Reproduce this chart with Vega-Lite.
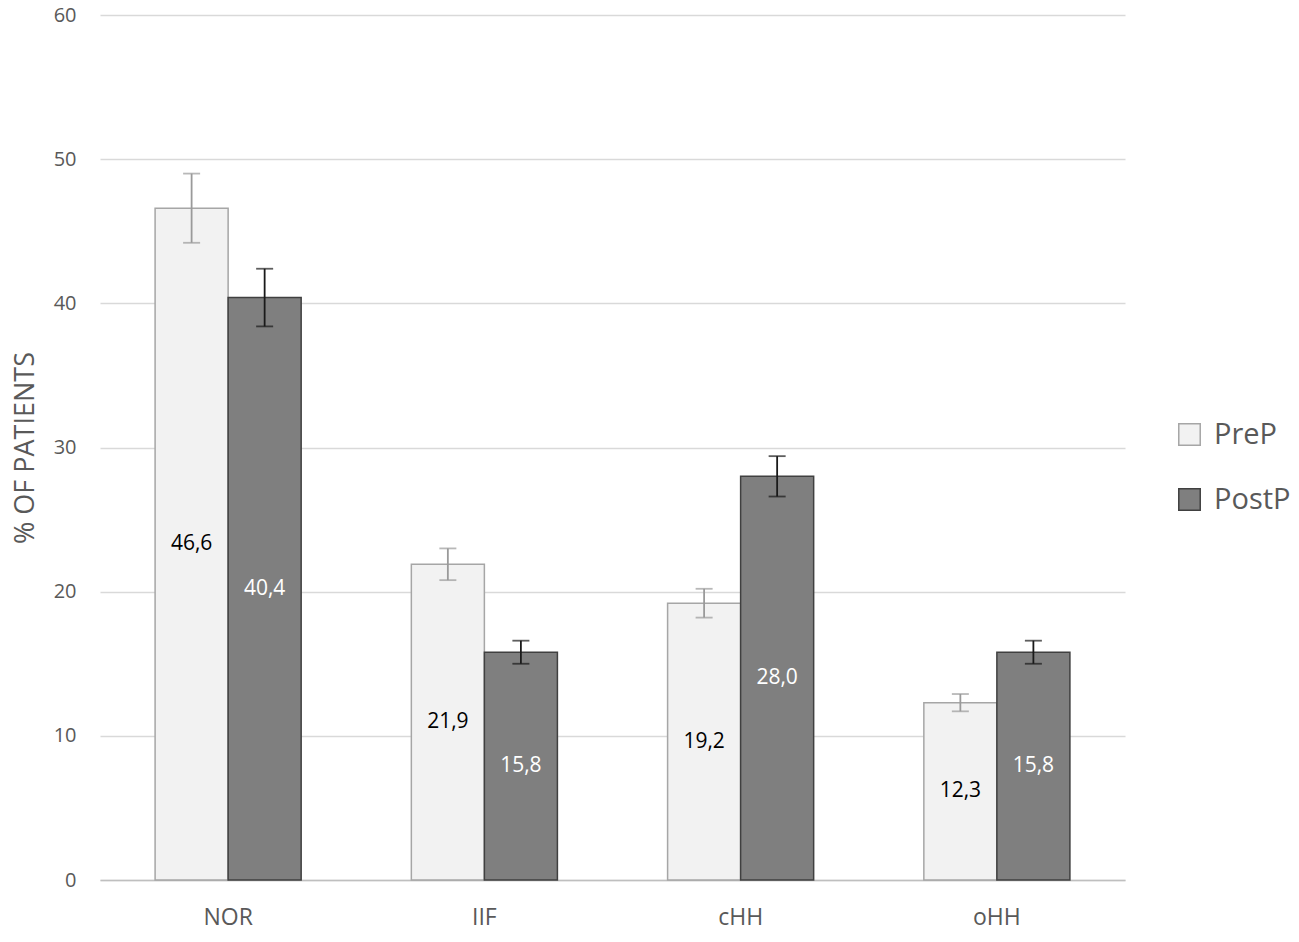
{
  "$schema": "https://vega.github.io/schema/vega-lite/v6.json",
  "autosize": "none",
  "width": 1025,
  "height": 865,
  "padding": {"left": 100, "top": 15, "right": 174, "bottom": 62},
  "background": "white",
  "config": {
    "view": {"stroke": null},
    "font": "Open Sans"
  },
  "data": {
    "values": [
      {"cat": "NOR", "series": "PreP", "value": 46.6, "lo": 44.2, "hi": 49.0, "label": "46,6"},
      {"cat": "NOR", "series": "PostP", "value": 40.4, "lo": 38.4, "hi": 42.4, "label": "40,4"},
      {"cat": "IIF", "series": "PreP", "value": 21.9, "lo": 20.8, "hi": 23.0, "label": "21,9"},
      {"cat": "IIF", "series": "PostP", "value": 15.8, "lo": 15.0, "hi": 16.6, "label": "15,8"},
      {"cat": "cHH", "series": "PreP", "value": 19.2, "lo": 18.2, "hi": 20.2, "label": "19,2"},
      {"cat": "cHH", "series": "PostP", "value": 28.0, "lo": 26.6, "hi": 29.4, "label": "28,0"},
      {"cat": "oHH", "series": "PreP", "value": 12.3, "lo": 11.7, "hi": 12.9, "label": "12,3"},
      {"cat": "oHH", "series": "PostP", "value": 15.8, "lo": 15.0, "hi": 16.6, "label": "15,8"}
    ]
  },
  "encoding": {
    "x": {
      "field": "cat", "type": "nominal",
      "sort": ["NOR", "IIF", "cHH", "oHH"],
      "scale": {"paddingInner": 0.43, "paddingOuter": 0.215},
      "axis": {
        "title": null, "labelAngle": 0, "labelFontSize": 23, "labelColor": "#595959",
        "labelPadding": 26, "ticks": false, "domainColor": "#bfbfbf", "domainWidth": 1.5
      }
    },
    "xOffset": {
      "field": "series", "type": "nominal", "sort": ["PreP", "PostP"],
      "scale": {"paddingInner": 0, "paddingOuter": 0}
    }
  },
  "layer": [
    {
      "mark": {"type": "bar", "strokeWidth": 1.5},
      "encoding": {
        "y": {
          "field": "value", "type": "quantitative",
          "scale": {"domain": [0, 60], "nice": false},
          "axis": {
            "values": [0, 10, 20, 30, 40, 50, 60],
            "title": "% OF PATIENTS", "titleFontSize": 27, "titleColor": "#595959",
            "titleFontWeight": "normal", "titlePadding": 14,
            "labelFontSize": 20, "labelColor": "#595959", "labelPadding": 24,
            "ticks": false, "domain": false, "gridColor": "#d9d9d9", "gridWidth": 1.3
          }
        },
        "fill": {
          "field": "series", "type": "nominal",
          "scale": {"domain": ["PreP", "PostP"], "range": ["#f2f2f2", "#7f7f7f"]},
          "legend": {
            "title": null, "orient": "none", "legendX": 1075, "legendY": 405,
            "symbolType": "square", "symbolSize": 460, "symbolStrokeWidth": 1.5,
            "labelFontSize": 29, "labelColor": "#595959", "labelOffset": 10,
            "rowPadding": 35, "symbolOffset": 0
          }
        },
        "stroke": {
          "field": "series", "type": "nominal",
          "scale": {"domain": ["PreP", "PostP"], "range": ["#a6a6a6", "#404040"]},
          "legend": null
        }
      }
    },
    {
      "mark": {"type": "rule", "strokeWidth": 1.8},
      "encoding": {
        "y": {"field": "lo", "type": "quantitative"},
        "y2": {"field": "hi"},
        "color": {
          "field": "series", "type": "nominal",
          "scale": {"domain": ["PreP", "PostP"], "range": ["#9a9a9a", "#1a1a1a"]},
          "legend": null
        }
      }
    },
    {
      "mark": {"type": "tick", "orient": "horizontal", "size": 17, "thickness": 1.8},
      "encoding": {
        "y": {"field": "lo", "type": "quantitative"},
        "color": {
          "field": "series", "type": "nominal",
          "scale": {"domain": ["PreP", "PostP"], "range": ["#9a9a9a", "#1a1a1a"]},
          "legend": null
        }
      }
    },
    {
      "mark": {"type": "tick", "orient": "horizontal", "size": 17, "thickness": 1.8},
      "encoding": {
        "y": {"field": "hi", "type": "quantitative"},
        "color": {
          "field": "series", "type": "nominal",
          "scale": {"domain": ["PreP", "PostP"], "range": ["#9a9a9a", "#1a1a1a"]},
          "legend": null
        }
      }
    },
    {
      "transform": [{"calculate": "datum.value / 2", "as": "mid"}],
      "mark": {"type": "text", "fontSize": 21, "baseline": "middle", "align": "center"},
      "encoding": {
        "y": {"field": "mid", "type": "quantitative"},
        "text": {"field": "label"},
        "color": {
          "field": "series", "type": "nominal",
          "scale": {"domain": ["PreP", "PostP"], "range": ["#000000", "#ffffff"]},
          "legend": null
        }
      }
    }
  ],
  "resolve": {"scale": {"color": "independent"}}
}
